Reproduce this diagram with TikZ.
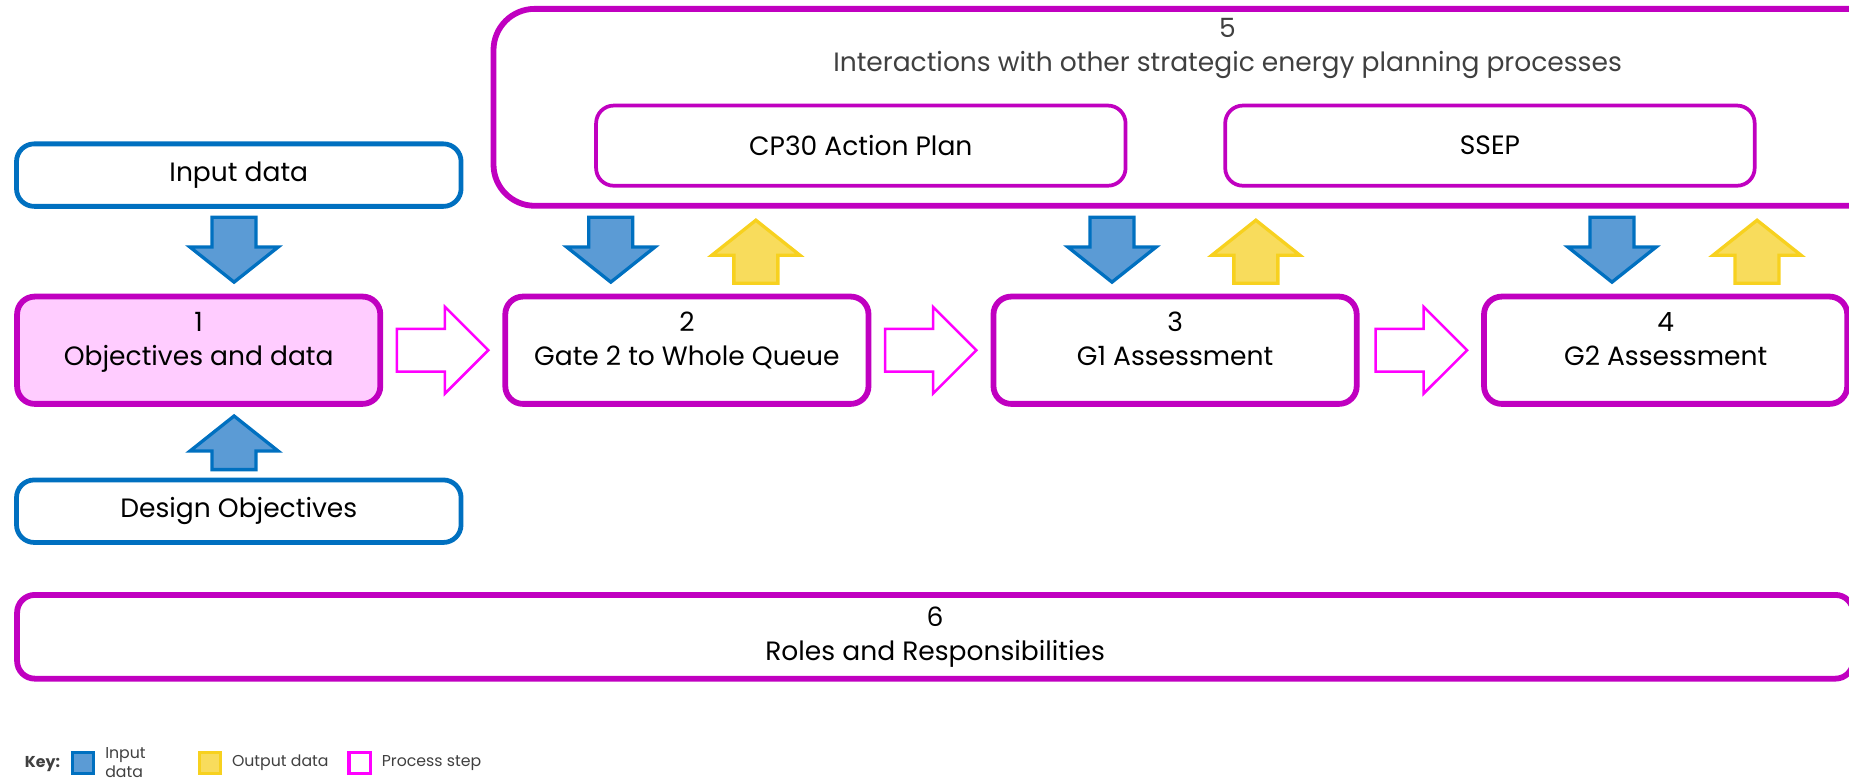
\documentclass[tikz,border=0pt]{standalone}
\usepackage{fontspec}
\setmainfont{Poppins}
\usetikzlibrary{positioning,calc,shapes.arrows}

\definecolor{blueline}{HTML}{0070C0}
\definecolor{bluefill}{HTML}{5B9BD5}
\definecolor{yellowline}{HTML}{F7D11F}
\definecolor{yellowfill}{HTML}{F8DC5C}
\definecolor{stepline}{HTML}{C000C0}
\definecolor{stepfill}{HTML}{FFCCFF}
\definecolor{flowline}{HTML}{FF00FF}
\definecolor{greytext}{HTML}{404040}

\begin{document}
\begin{tikzpicture}[node distance=8.28cm, font=\fontsize{12.8pt}{16.5pt}\selectfont]
    % Define styles
    \tikzstyle{box_data} = [rectangle, draw=blueline, line width=2.3pt, fill=white, rounded corners=0.3cm, minimum width=7.54cm, minimum height=1.06cm]
    \tikzstyle{box_step} = [rectangle, draw=stepline, line width=2.8pt, fill=white, rounded corners=0.3cm, minimum width=6.16cm, minimum height=1.82cm, align=center]
    \tikzstyle{box_stage} = [box_step, text depth=0.38cm]
    \tikzstyle{box_plan} = [rectangle, draw=stepline, line width=1.8pt, fill=white, rounded corners=0.3cm, minimum width=8.98cm, minimum height=1.36cm]
    \tikzstyle{arrow_in} = [single arrow, draw=blueline, fill=bluefill, line width=1.6pt, inner xsep=0pt, inner ysep=0.345cm, minimum height=1.1cm, single arrow head extend=0.375cm, single arrow tip angle=103, anchor=tip]
    \tikzstyle{arrow_out} = [arrow_in, draw=yellowline, fill=yellowfill, minimum height=1.07cm]
    \tikzstyle{arrow_step} = [single arrow, draw=flowline, fill=white, line width=1.2pt, inner xsep=0pt, inner ysep=0.34cm, minimum height=1.55cm, single arrow head extend=0.375cm, single arrow tip angle=90, anchor=tip]
    \tikzstyle{key_box} = [rectangle, line width=1.6pt, minimum size=0.36cm, inner sep=0pt]
    \tikzstyle{key_text} = [font=\fontsize{7.6pt}{9.2pt}\selectfont, text=greytext, align=left, inner sep=0pt]

    \useasboundingbox (0,0) rectangle (31.36,-13.18);
    \clip (0,0) rectangle (31.36,-13.18);

    % Nodes
    \node [box_stage, fill=stepfill] (objectives) at (3.37,-5.94) {1\\Objectives and data};
    \node [box_stage, right of=objectives] (gate) {2\\Gate 2 to Whole Queue};
    \node [box_stage, right of=gate] (assess_g1) {3\\G1 Assessment};
    \node [box_stage, right of=assess_g1, node distance=8.32cm] (assess_g2) {4\\G2 Assessment};

    \node [box_data] (input) at (4.05,-2.97) {Input data};
    \node [box_data] (design) at (4.05,-8.67) {Design Objectives};

    \node [box_step, rounded corners=0.7cm, minimum width=24.9cm, minimum height=3.34cm] (interact) at (20.82,-1.82) {};
    \node [text=greytext, align=center] (interact_title) at (20.82,-0.82) {5\\Interactions with other strategic energy planning processes};
    \node [box_plan] (cp30) at (14.6,-2.47) {CP30 Action Plan};
    \node [box_plan, right of=cp30, node distance=10.67cm] (ssep) {SSEP};

    \node [box_step, minimum width=31.14cm, minimum height=1.42cm] (roles) at (15.86,-10.8) {6\\Roles and Responsibilities};

    % Arrows
    \node [arrow_in, rotate=-90] (input_in) at ($(input.south |- objectives.north) + (-0.08,0.16)$) {};
    \node [arrow_in, rotate=90, minimum height=0.91cm] (design_in) at ($(design.north |- objectives.south) + (-0.08,-0.12)$) {};

    \node [arrow_in, rotate=-90] (gate_in) at ($(gate.north) + (-1.29,0.16)$) {};
    \node [arrow_out, rotate=90] (gate_out) at ($(gate.north |- interact.south) + (1.17,-0.16)$) {};
    \node [arrow_in, rotate=-90] (g1_in) at ($(assess_g1.north) + (-1.07,0.16)$) {};
    \node [arrow_out, rotate=90] (g1_out) at ($(assess_g1.north |- interact.south) + (1.37,-0.16)$) {};
    \node [arrow_in, rotate=-90] (g2_in) at ($(assess_g2.north) + (-0.91,0.16)$) {};
    \node [arrow_out, rotate=90] (g2_out) at ($(assess_g2.north |- interact.south) + (1.55,-0.16)$) {};

    \node [arrow_step] (step_12) at ($(gate.west) + (-0.21,0)$) {};
    \node [arrow_step] (step_23) at ($(assess_g1.west) + (-0.21,0)$) {};
    \node [arrow_step] (step_34) at ($(assess_g2.west) + (-0.21,0)$) {};

    % Key
    \node [font=\bfseries\fontsize{7.6pt}{9.2pt}\selectfont, text=greytext, inner sep=0pt] (key) at (0.72,-12.96) {Key:};
    \node [key_box, draw=blueline, fill=bluefill] (key_in) at (1.41,-12.94) {};
    \node [key_text, right=0.16cm of key_in] (key_in_text) {Input\\data};
    \node [key_box, draw=yellowline, fill=yellowfill] (key_out) at (3.56,-12.94) {};
    \node [key_text, right=0.16cm of key_out] (key_out_text) {Output data};
    \node [key_box, draw=flowline, fill=white] (key_step) at (6.1,-12.94) {};
    \node [key_text, right=0.16cm of key_step] (key_step_text) {Process step};
\end{tikzpicture}
\end{document}
